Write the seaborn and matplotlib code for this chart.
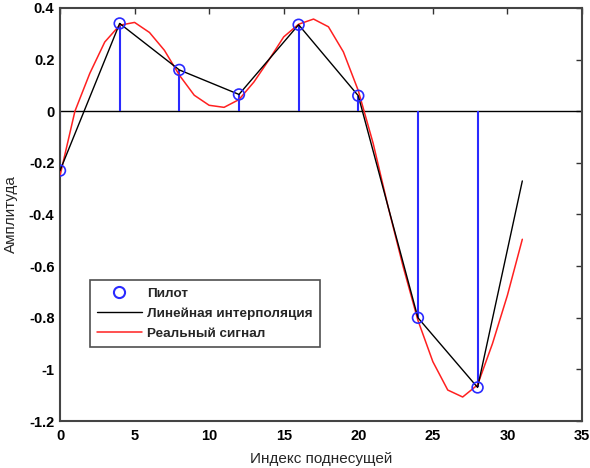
import numpy as np
import pandas as pd
import matplotlib
matplotlib.use("Agg")
import matplotlib.pyplot as plt
import seaborn as sns
from matplotlib.lines import Line2D

# Pilot subcarriers and their measured amplitudes
pilot_idx = [0, 4, 8, 12, 16, 20, 24, 28]
pilot_amp = [-0.23, 0.34, 0.16, 0.065, 0.335, 0.06, -0.80, -1.07]

# Linear interpolation between pilots (extended to the last subcarrier)
interp_idx = [0, 4, 8, 12, 16, 20, 24, 28, 31]
interp_amp = [-0.23, 0.34, 0.16, 0.065, 0.335, 0.06, -0.80, -1.07, -0.27]

# True channel response on every subcarrier
real_idx = list(range(32))
real_amp = [-0.25, 0.0, 0.147, 0.268, 0.333, 0.344, 0.305, 0.236, 0.14, 0.062,
            0.023, 0.015, 0.045, 0.113, 0.198, 0.288, 0.337, 0.357, 0.327, 0.23,
            0.08, -0.125, -0.37, -0.60, -0.81, -0.97, -1.08, -1.107, -1.06, -0.90,
            -0.713, -0.496]

x_ticks = [0, 5, 10, 15, 20, 25, 30, 35]
y_ticks = [-1.2, -1.0, -0.8, -0.6, -0.4, -0.2, 0.0, 0.2, 0.4]
y_tick_labels = ["-1.2", "-1", "-0.8", "-0.6", "-0.4", "-0.2", "0", "0.2", "0.4"]

sns.set_theme(style="white")
plt.rcParams["font.family"] = ["Liberation Sans", "DejaVu Sans"]

fig = plt.figure(figsize=(5.9, 4.68), dpi=100)
ax = fig.add_axes([0.1017, 0.1004, 0.8847, 0.8826])

pilots = pd.DataFrame({"idx": pilot_idx, "amp": pilot_amp})
interp = pd.DataFrame({"idx": interp_idx, "amp": interp_amp})
real = pd.DataFrame({"idx": real_idx, "amp": real_amp})

# zero baseline and pilot stems
ax.axhline(0, color="black", lw=1.0, zorder=1)
ax.vlines(pilots["idx"], 0, pilots["amp"], color="#2a2aff", lw=1.5, zorder=2)

sns.lineplot(data=real, x="idx", y="amp", color="#ff2020", lw=1.1, ax=ax,
             sort=False, zorder=3)
sns.lineplot(data=interp, x="idx", y="amp", color="black", lw=1.0, ax=ax,
             sort=False, zorder=4)
sns.scatterplot(data=pilots, x="idx", y="amp", ax=ax, s=60, marker="o",
                facecolor="none", edgecolor="#2a2aff", linewidth=1.2, zorder=5)

ax.set_xlim(0, 35)
ax.set_ylim(-1.2, 0.4)
ax.set_xticks(x_ticks)
ax.set_yticks(y_ticks)
ax.set_yticklabels(y_tick_labels)
ax.tick_params(direction="in", length=4, width=1, colors="#333333",
               top=True, right=True, labelsize=10.5)
ax.tick_params(axis="x", pad=6)
ax.tick_params(axis="y", pad=4)
for lab in ax.get_xticklabels() + ax.get_yticklabels():
    lab.set_fontweight("bold")
    lab.set_color("black")
for sp in ax.spines.values():
    sp.set_color("#444444")
    sp.set_linewidth(1.5)

ax.set_xlabel("Индекс поднесущей", fontsize=11, labelpad=6)
ax.set_ylabel("Амплитуда", fontsize=11, labelpad=8)

handles = [
    Line2D([], [], ls="none", marker="o", markersize=8, markerfacecolor="none",
           markeredgecolor="#2a2aff", markeredgewidth=1.5),
    Line2D([], [], color="black", lw=1.0),
    Line2D([], [], color="#ff2020", lw=1.1),
]
labels = ["Пилот", "Линейная интерполяция", "Реальный сигнал"]
leg = ax.legend(handles, labels, loc="lower left",
                bbox_to_anchor=(0.057, 0.179), borderaxespad=0, fontsize=9.7,
                frameon=True, fancybox=False, borderpad=0.55,
                handlelength=3.3, handletextpad=0.4, labelspacing=0.55)
leg.get_frame().set_edgecolor("#222222")
leg.get_frame().set_linewidth(1.2)
for t in leg.get_texts():
    t.set_fontweight("bold")

fig.savefig("out.png", dpi=100)
